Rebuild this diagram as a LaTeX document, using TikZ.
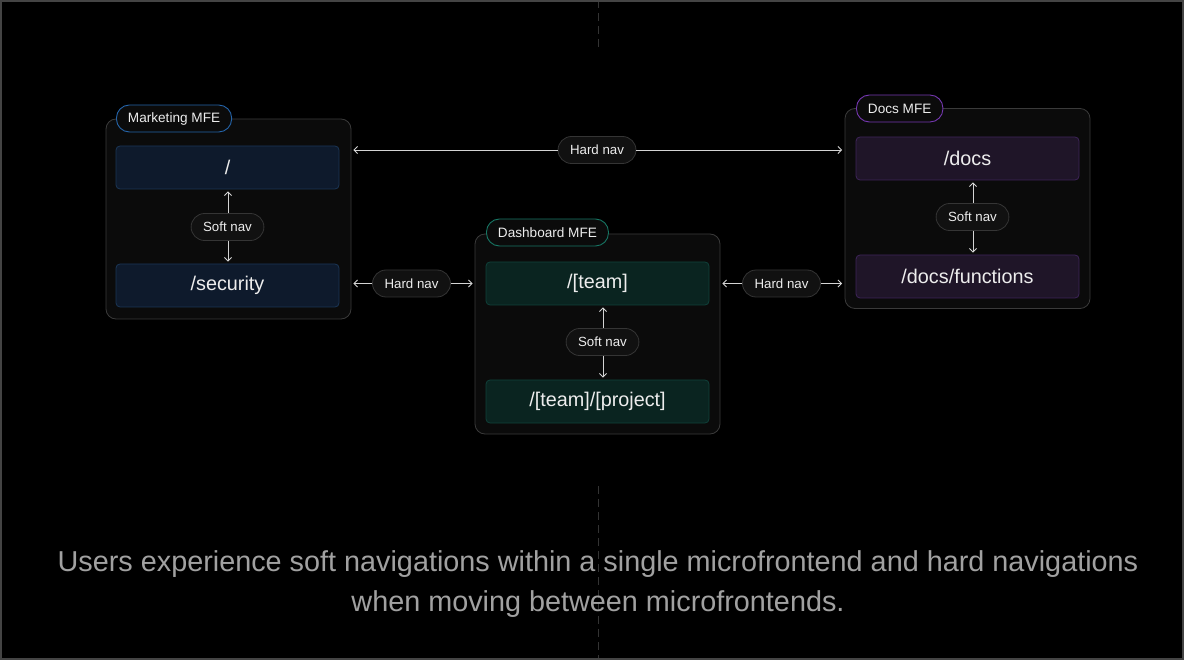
\documentclass[tikz,border=0pt]{standalone}
\usepackage{fontspec}
\setmainfont{Liberation Sans}
\usetikzlibrary{arrows.meta,positioning,calc}
\definecolor{bgc}{HTML}{000000}
\definecolor{framec}{HTML}{444444}
\definecolor{contfill}{HTML}{0B0B0B}
\definecolor{contdraw}{HTML}{3A3A3A}
\definecolor{txt}{HTML}{EDEDED}
\definecolor{captc}{HTML}{A1A1A1}
\definecolor{pillfill}{HTML}{111111}
\definecolor{pilldraw}{HTML}{353535}
\definecolor{bluefill}{HTML}{0E1A2C}
\definecolor{bluedraw}{HTML}{1B3656}
\definecolor{bluetab}{HTML}{2463A8}
\definecolor{greenfill}{HTML}{0A2420}
\definecolor{greendraw}{HTML}{10413A}
\definecolor{greentab}{HTML}{177563}
\definecolor{purpfill}{HTML}{1F1528}
\definecolor{purpdraw}{HTML}{3E2459}
\definecolor{purptab}{HTML}{7437B0}
\definecolor{dashc}{HTML}{333333}
\definecolor{arrc}{HTML}{D4D4D4}
\tikzset{
  container/.style={draw=contdraw, fill=contfill, line width=0.8pt, rounded corners=10pt,
    minimum width=245pt, minimum height=200pt, inner sep=0pt},
  tab/.style={draw=#1, fill=contfill, line width=0.9pt, rounded corners=13pt,
    minimum height=27pt, inner xsep=11.5pt, inner ysep=0pt, text=txt, font=\fontsize{13.6}{15}\selectfont},
  route/.style={draw=#1, line width=0.8pt, rounded corners=4pt, minimum width=223pt,
    minimum height=43pt, inner sep=0pt, text=txt, font=\fontsize{19.8}{22}\selectfont},
  pill/.style={draw=pilldraw, fill=pillfill, line width=0.8pt, rounded corners=13.5pt,
    minimum height=27pt, inner xsep=12pt, inner ysep=0pt, text=txt, font=\fontsize{13.3}{15}\selectfont},
  arr/.style={draw=arrc, line width=0.9pt, -{Straight Barb[length=3.5pt,width=7pt]}},
}
\begin{document}
\begin{tikzpicture}[x=1pt,y=-1pt]
\useasboundingbox (0,0) rectangle (1184,660);
\fill[bgc] (0,0) rectangle (1184,660);
% dashed guide line
\draw[dashc, line width=1pt, dash pattern=on 8pt off 5pt] (598,0) -- (598,48);
\draw[dashc, line width=1pt, dash pattern=on 8pt off 5pt] (598,486) -- (598,660);
% frame
\draw[framec, line width=2pt] (1,1) rectangle (1183,659);

% containers
\node[container] (mkt) at (228.5,219) {};
\node[container] (dash) at (597.5,334) {};
\node[container] (docs) at (967.5,208.5) {};

% tabs
\node[tab=bluetab, anchor=west] (mkttab) at (116,118.5) {Marketing MFE};
\node[tab=greentab, anchor=west] (dashtab) at (486,232.5) {Dashboard MFE};
\node[tab=purptab, anchor=west] (docstab) at (856,108.5) {Docs MFE};

% routes
\node[route=bluedraw, fill=bluefill] (root) at (227.5,167.5) {/};
\node[route=bluedraw, fill=bluefill] (sec) at (227.5,285.5) {/security};
\node[route=greendraw, fill=greenfill] (team) at (597.5,283.5) {/[team]};
\node[route=greendraw, fill=greenfill] (proj) at (597.5,401.5) {/[team]/[project]};
\node[route=purpdraw, fill=purpfill] (dz) at (967.5,158.5) {/docs};
\node[route=purpdraw, fill=purpfill] (fn) at (967.5,276.5) {/docs/functions};

% soft nav pills
\node[pill] (softm) at (227.5,227) {Soft nav};
\node[pill] (softd) at (602.5,342) {Soft nav};
\node[pill] (softc) at (972.5,217) {Soft nav};
\draw[arr, shorten >=2pt] (softm.north -| 228,0) -- (root.south -| 228,0);
\draw[arr, shorten >=2pt] (softm.south -| 228,0) -- (sec.north -| 228,0);
\draw[arr, shorten >=2pt] (softd.north -| 603,0) -- (team.south -| 603,0);
\draw[arr, shorten >=2pt] (softd.south -| 603,0) -- (proj.north -| 603,0);
\draw[arr, shorten >=2pt] (softc.north -| 973,0) -- (dz.south -| 973,0);
\draw[arr, shorten >=2pt] (softc.south -| 973,0) -- (fn.north -| 973,0);

% hard nav pills
\node[pill] (hardtop) at (597,150) {Hard nav};
\node[pill] (hardl) at (411.5,283.5) {Hard nav};
\node[pill] (hardr) at (781.5,283.5) {Hard nav};
\draw[arr, shorten >=2pt] (hardtop.west) -- (hardtop.west -| mkt.east);
\draw[arr, shorten >=2.5pt] (hardtop.east) -- (hardtop.east -| docs.west);
\draw[arr, shorten >=2pt] (hardl.west) -- (hardl.west -| mkt.east);
\draw[arr, shorten >=2pt] (hardl.east) -- (hardl.east -| dash.west);
\draw[arr, shorten >=2pt] (hardr.west) -- (hardr.west -| dash.east);
\draw[arr, shorten >=2.5pt] (hardr.east) -- (hardr.east -| docs.west);

% caption
\node[text=captc, align=center, font=\fontsize{28.8}{40}\selectfont] (cap) at (598,584)
  {Users experience soft navigations within a single microfrontend and hard navigations\\when moving between microfrontends.};
\end{tikzpicture}
\end{document}
